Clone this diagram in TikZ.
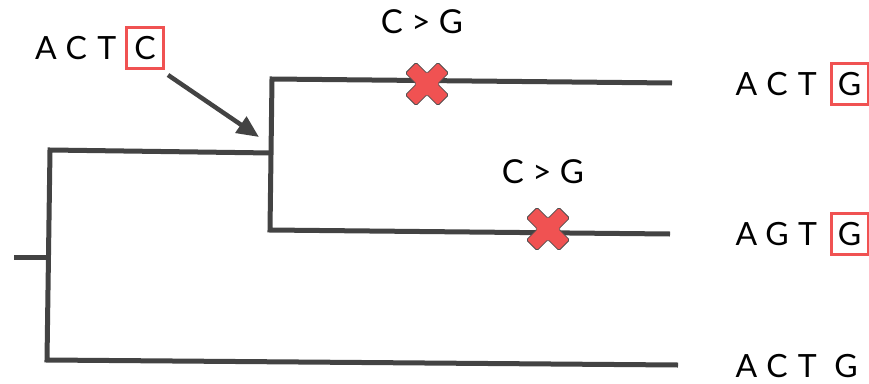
\documentclass[tikz,border=0pt]{standalone}
\usepackage{fontspec}
\setmainfont{Lato}
\usetikzlibrary{arrows.meta}

\definecolor{branchgray}{HTML}{434343}
\definecolor{mutred}{HTML}{F05252}
\definecolor{crossedge}{HTML}{505050}

% one fixed-width cell per base so the letters sit on an even pitch
\newcommand{\basecell}[1]{\makebox[30.5pt]{#1}}
\newcommand{\seqfont}{\fontsize{32}{32}\selectfont}

\tikzset{
  branch/.style={line width=5pt, draw=branchgray, line join=miter},
  seqtext/.style={font=\seqfont, inner sep=0pt, anchor=base west},
  swaptext/.style={font=\fontsize{33}{33}\selectfont, inner sep=0pt, anchor=base},
  hitbox/.style={draw=mutred, line width=3pt, minimum width=37pt, minimum height=41pt,
                 inner sep=0pt, anchor=base, font=\seqfont},
  plainbase/.style={inner sep=0pt, anchor=base, font=\seqfont},
  pointer/.style={line width=4.5pt, draw=branchgray, -{Triangle[length=22pt,width=19pt]}},
  mutation/.pic={
    \draw[fill=mutred, draw=crossedge, line width=0.8pt, rounded corners=1.5pt, rotate=45]
      (-7.5,-23) -- (7.5,-23) -- (7.5,-7.5) -- (23,-7.5) -- (23,7.5) -- (7.5,7.5)
      -- (7.5,23) -- (-7.5,23) -- (-7.5,7.5) -- (-23,7.5) -- (-23,-7.5) -- (-7.5,-7.5) -- cycle;
  }
}

\begin{document}
\begin{tikzpicture}[x=1pt, y=-1pt]
  \useasboundingbox (0,0) rectangle (869,383);

  % tree junctions and leaf ends
  \coordinate (stub) at (14,257);
  \coordinate (rootmid) at (48.5,257);
  \coordinate (roottop) at (50,150);
  \coordinate (rootbot) at (47,360);
  \coordinate (inner) at (272,153);
  \coordinate (innertop) at (272,79);
  \coordinate (innerbot) at (270,230);
  \coordinate (leafA) at (672,83);
  \coordinate (leafB) at (670,234);
  \coordinate (leafC) at (678,365);

  % branches
  \draw[branch] (stub) -- (rootmid);
  \draw[branch] (inner) -- (roottop) -- (rootbot) -- (leafC);
  \draw[branch] (leafA) -- (innertop) -- (innerbot) -- (leafB);

  % mutations on the two upper branches
  \pic at (427,84) {mutation};
  \pic at (548,229) {mutation};
  \node[swaptext] (swapA) at (422,33) {C > G};
  \node[swaptext] (swapB) at (543,183) {C > G};

  % ancestral sequence and its pointer
  \node[seqtext] (anc) at (30.5,59) {\basecell{A}\basecell{C}\basecell{T}};
  \node[hitbox] (ancbox) at (145,59) {C};
  \coordinate (pointfrom) at (168,75);
  \coordinate (pointto) at (259,137);
  \draw[pointer] (pointfrom) -- (pointto);

  % leaf sequences
  \node[seqtext] (seqA) at (731,95) {\basecell{A}\basecell{C}\basecell{T}};
  \node[hitbox] (seqAbox) at (849.5,95) {G};
  \node[seqtext] (seqB) at (731,245) {\basecell{A}\basecell{G}\basecell{T}};
  \node[hitbox] (seqBbox) at (849.5,245) {G};
  \node[seqtext] (seqC) at (731,377) {\basecell{A}\basecell{C}\basecell{T}};
  \node[plainbase] (seqCend) at (846,377) {G};
\end{tikzpicture}
\end{document}
